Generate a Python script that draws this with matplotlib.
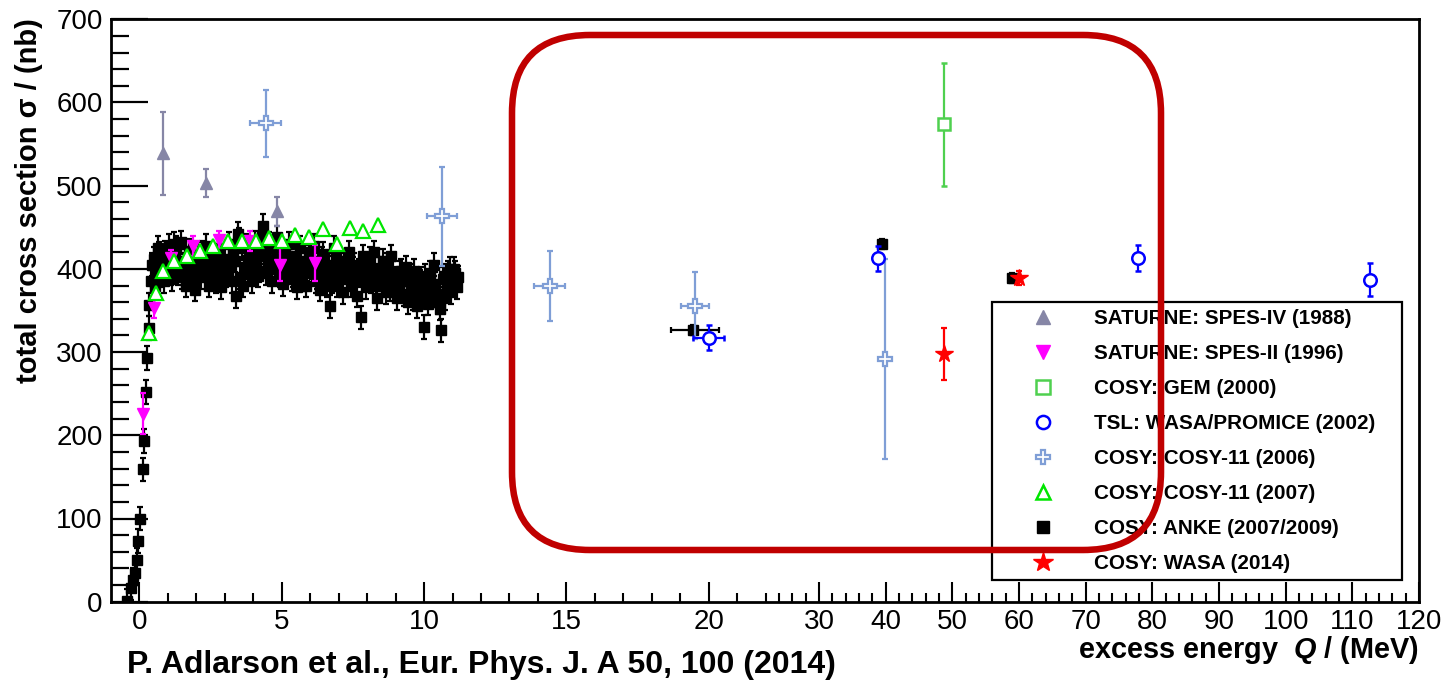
import numpy as np
import matplotlib
matplotlib.use("Agg")
import matplotlib.pyplot as plt
from matplotlib.lines import Line2D
from matplotlib.patches import FancyBboxPatch

# ---------------- data ----------------
# SATURNE SPES-IV (1988)
spes4_q = [0.84, 2.34, 4.83]
spes4_s = [539, 503, 469]
spes4_e = [50, 17, 18]

# SATURNE SPES-II (1996)
spes2_q = [0.14, 0.52, 1.10, 1.88, 2.78, 3.89, 4.95, 6.18]
spes2_s = [226, 353, 413, 427, 435, 434, 405, 407]
spes2_e = [25, 12, 10, 12, 10, 12, 20, 22]

# COSY GEM (2000)
gem_q = [48.8]
gem_s = [574]
gem_e = [74]

# TSL WASA/PROMICE (2002)
tsl_q = [20.0, 38.8, 77.9, 112.6]
tsl_s = [317, 413, 413, 387]
tsl_e = [15, 15, 16, 20]
tsl_xe = [0.55, 0.0, 0.0, 0.0]

# COSY-11 (2006)
c06_q = [4.44, 10.63, 14.41, 19.53, 39.9]
c06_s = [575, 463, 379, 356, 292]
c06_e = [40, 60, 42, 40, 120]
c06_xe = [0.54, 0.53, 0.53, 0.5, 0.0]

# COSY-11 (2007)
c07_q = [0.34, 0.59, 0.84, 1.20, 1.67, 2.13, 2.60, 3.10, 3.62, 4.09,
         4.54, 5.00, 5.47, 5.94, 6.45, 6.94, 7.40, 7.87, 8.38]
c07_s = [323, 371, 398, 409, 415, 422, 427, 433, 434, 433,
         437, 433, 441, 438, 448, 430, 449, 445, 453]

# COSY ANKE (2007/2009) - threshold region
anke_q = [-0.44, -0.30, -0.21, -0.15, -0.09, -0.035, 0.02, 0.11, 0.165, 0.22,
          0.27, 0.32, 0.35,
          0.4, 0.5, 0.6, 0.7, 0.8, 0.9, 1.0, 1.1, 1.2, 1.3, 1.4, 1.5, 1.6, 1.7,
          1.8, 1.9, 2.0, 2.1, 2.2, 2.3, 2.4, 2.5, 2.6, 2.7, 2.8, 2.9, 3.0, 3.1,
          3.2, 3.3, 3.4, 3.5, 3.6, 3.7, 3.8, 3.9, 4.0, 4.1, 4.2, 4.3, 4.4, 4.5,
          4.6, 4.7, 4.8, 4.9, 5.0, 5.1, 5.2, 5.3, 5.4, 5.5, 5.6, 5.7, 5.8, 5.9,
          6.0, 6.1, 6.2, 6.3, 6.4, 6.5, 6.6, 6.7, 6.8, 6.9, 7.0, 7.1, 7.2, 7.3,
          7.4, 7.5, 7.6, 7.7, 7.8, 7.9, 8.0, 8.1, 8.2, 8.3, 8.4, 8.5, 8.6, 8.7,
          8.8, 8.9, 9.0, 9.1, 9.2, 9.3, 9.4, 9.5, 9.6, 9.7, 9.8, 9.9, 10.0, 10.1,
          10.2, 10.3, 10.4, 10.5, 10.6, 10.7, 10.8, 10.9, 11.0, 11.1, 11.2,
          0.45, 0.55, 0.65, 0.75, 0.85, 0.95, 1.05, 1.15, 1.25, 1.35, 1.45, 1.55,
          1.65, 1.75, 1.85, 1.95, 2.05, 2.15, 2.25, 2.35, 2.45, 2.55, 2.65, 2.75,
          2.85, 2.95, 3.05, 3.15, 3.25, 3.35, 3.45, 3.55, 3.65, 3.75, 3.85, 3.95,
          4.05, 4.15, 4.25, 4.35, 4.45, 4.55, 4.65, 4.75, 4.85, 4.95, 5.05, 5.15,
          5.25, 5.35, 5.45, 5.55, 5.65, 5.75, 5.85, 5.95, 6.05, 6.15, 6.25, 6.35,
          6.45, 6.55, 6.65, 6.75, 6.85, 6.95, 7.05, 7.15, 7.25, 7.35, 7.45, 7.55,
          7.65, 7.75, 7.85, 7.95, 8.05, 8.15, 8.25, 8.35, 8.45, 8.55, 8.65, 8.75,
          8.85, 8.95, 9.05, 9.15, 9.25, 9.35, 9.45, 9.55, 9.65, 9.75, 9.85, 9.95,
          10.05, 10.15, 10.25, 10.35, 10.45, 10.55, 10.65, 10.75, 10.85, 10.95,
          11.05, 11.15]
anke_s = [1, 16, 26, 34, 50, 73, 100, 159, 193, 252,
          293, 329, 357,
          385, 412, 398, 418, 392, 420, 405, 395, 430, 425, 400, 390, 410, 398,
          415, 388, 405, 396, 420, 410, 392, 400, 415, 385, 405, 398, 412, 395,
          405, 420, 367, 435, 425, 402, 410, 395, 418, 405, 398, 440, 415, 408,
          400, 425, 412, 395, 405, 420, 398, 410, 392, 415, 402, 388, 410, 400,
          420, 395, 385, 405, 412, 398, 380, 355, 402, 415, 395, 388, 405, 410,
          392, 400, 385, 398, 342, 405, 390, 412, 395, 380, 400, 392, 385, 405,
          375, 395, 388, 378, 398, 370, 385, 392, 365, 380, 372, 388, 330, 375,
          395, 368, 382, 360, 326, 392, 378, 400, 385, 395, 390,
          405, 380, 425, 402, 385, 412, 428, 388, 415, 395, 432, 405,
          380, 422, 400, 375, 418, 390, 402, 428, 380, 410, 395, 425,
          378, 408, 392, 430, 385, 410, 442, 390, 380, 428, 412, 385,
          432, 392, 420, 452, 395, 430, 385, 410, 438, 392, 382, 412,
          430, 388, 405, 378, 425, 398, 380, 415, 402, 428, 390, 375,
          418, 395, 405, 385, 425, 380, 410, 372, 398, 420, 380, 405,
          368, 392, 415, 378, 402, 385, 420, 365, 392, 410, 372, 398,
          415, 380, 365, 395, 385, 402, 360, 375, 398, 355, 385, 368,
          392, 358, 380, 405, 370, 352, 388, 365, 395, 372,
          400, 378]
# ANKE higher energies
anke2_q = [19.44, 39.4, 58.9]
anke2_s = [327, 430, 389]
anke2_xl = [0.76, 0.0, 0.0]
anke2_xr = [0.91, 0.0, 0.0]

# COSY WASA (2014)
wasa_q = [48.8, 60.0]
wasa_s = [298, 389]
wasa_e = [31, 8]

legend_labels = ["SATURNE: SPES-IV (1988)", "SATURNE: SPES-II (1996)",
                 "COSY: GEM (2000)", "TSL: WASA/PROMICE (2002)",
                 "COSY: COSY-11 (2006)", "COSY: COSY-11 (2007)",
                 "COSY: ANKE (2007/2009)", "COSY: WASA (2014)"]

major_ticks = [0, 5, 10, 15, 20, 30, 40, 50, 60, 70, 80, 90, 100, 110, 120]

# ---------------- style ----------------
plt.rcParams['font.family'] = ['Liberation Sans', 'DejaVu Sans']
plt.rcParams['mathtext.fontset'] = 'custom'
plt.rcParams['mathtext.it'] = 'Liberation Sans:italic:bold'
plt.rcParams['mathtext.rm'] = 'Liberation Sans:bold'

C_SPES4 = '#8686a6'
C_SPES2 = '#ff00ff'
C_GEM = '#4fd04f'
C_TSL = '#0000ff'
C_C06 = '#7f9ed6'
C_C07 = '#00e600'
C_ANKE = '#000000'
C_WASA = '#ff0000'

fig = plt.figure(figsize=(14.5, 6.83), dpi=100)
ax = fig.add_axes([111/1450, 1-601.7/683, (1419-111)/1450, (601.7-19.3)/683])

# piecewise-linear x scale: linear to 22 MeV, compressed beyond
QB = [-5.0, 22.0, 200.0]
UB = [-5.0, 22.0, 22.0 + 0.2343*178.0]
ax.set_xscale('function', functions=(lambda q: np.interp(q, QB, UB),
                                     lambda u: np.interp(u, UB, QB)))

ekw = dict(capsize=2.2, elinewidth=1.6, capthick=1.6, linestyle='none')

ax.errorbar(anke_q, anke_s, yerr=14, fmt='s', color=C_ANKE, ms=7.2, zorder=3, **ekw)
ax.errorbar(anke2_q, anke2_s, xerr=[anke2_xl, anke2_xr], yerr=6, fmt='s', color=C_ANKE,
            ms=7.2, zorder=3, **ekw)
ax.errorbar(spes2_q, spes2_s, yerr=spes2_e, fmt='v', color=C_SPES2, ms=8.5, zorder=4, **ekw)
ax.errorbar(spes4_q, spes4_s, yerr=spes4_e, fmt='^', color=C_SPES4, ms=8.5, zorder=4, **ekw)
ax.errorbar(c07_q, c07_s, fmt='^', color=C_C07, mfc='white', mew=1.6, ms=10.5, zorder=5, **ekw)
ax.errorbar(c06_q, c06_s, yerr=c06_e, xerr=c06_xe, fmt='P', color=C_C06, mfc='white',
            mew=1.6, ms=10, zorder=5, **ekw)
ax.errorbar(gem_q, gem_s, yerr=gem_e, fmt='s', color=C_GEM, mfc='white', mew=1.8,
            ms=9, zorder=5, **ekw)
ax.errorbar(tsl_q, tsl_s, yerr=tsl_e, xerr=tsl_xe, fmt='o', color=C_TSL, mfc='white',
            mew=1.8, ms=9, zorder=6, **ekw)
ax.errorbar(wasa_q, wasa_s, yerr=wasa_e, fmt='*', color=C_WASA, ms=13, zorder=6, **ekw)

ax.set_xlim(-1, 120)
ax.set_ylim(0, 700)

# ticks
minor_x = [q for q in range(1, 22) if q not in major_ticks] + \
          [q for q in range(22, 120, 2) if q not in major_ticks]
ax.set_xticks(major_ticks)
ax.set_xticklabels([str(v) for v in major_ticks])
ax.set_xticks(minor_x, minor=True)
ax.set_yticks(np.arange(0, 701, 100))
ax.set_yticks(np.arange(0, 701, 20), minor=True)

ax.tick_params(axis='x', which='major', direction='in', length=14.5, width=1.5,
               labelsize=20, pad=5, top=False)
ax.tick_params(axis='x', which='minor', direction='in', length=6.5, width=1.5, top=False)
ax.tick_params(axis='y', which='major', direction='in', length=26.6, width=1.6,
               labelsize=20, pad=6, right=False)
ax.tick_params(axis='y', which='minor', direction='in', length=13, width=1.6, right=False)

for sp in ax.spines.values():
    sp.set_linewidth(2.0)

# legend
handles = [
    Line2D([], [], ls='none', marker='^', color=C_SPES4, ms=9.5),
    Line2D([], [], ls='none', marker='v', color=C_SPES2, ms=9.5),
    Line2D([], [], ls='none', marker='s', color=C_GEM, mfc='none', mew=1.8, ms=9.5),
    Line2D([], [], ls='none', marker='o', color=C_TSL, mfc='none', mew=1.8, ms=9.5),
    Line2D([], [], ls='none', marker='P', color=C_C06, mfc='none', mew=1.6, ms=10.5),
    Line2D([], [], ls='none', marker='^', color=C_C07, mfc='none', mew=1.8, ms=10.5),
    Line2D([], [], ls='none', marker='s', color=C_ANKE, ms=9),
    Line2D([], [], ls='none', marker='*', color=C_WASA, ms=15),
]
leg = ax.legend(handles, legend_labels, loc='upper left',
                bbox_to_anchor=(992/1450, 1-580/683, (1402-992)/1450, (580-302)/683),
                bbox_transform=fig.transFigure, mode='expand', borderaxespad=0,
                fancybox=False, edgecolor='black', framealpha=1,
                prop={'weight': 'bold', 'size': 14.9},
                handlelength=4.23, handletextpad=0.35, labelspacing=0.77,
                borderpad=0.35)
leg.get_frame().set_linewidth(1.6)
leg.set_zorder(10)

# texts
fig.text(29/1450, 1-201/683, 'total cross section σ / (nb)', rotation=90,
         ha='center', va='center', fontsize=21, fontweight='bold')
fig.text(127/1450, 1-665/683, 'P. Adlarson et al., Eur. Phys. J. A 50, 100 (2014)',
         ha='left', va='center', fontsize=23, fontweight='bold')
fig.text(1419/1450, 1-650/683, r'excess energy  $Q$ / (MeV)', ha='right', va='center',
         fontsize=20.8, fontweight='bold')

# red highlight box
box = FancyBboxPatch((5.12, 6.83-5.50), 6.49, 5.15,
                     boxstyle='round,pad=0,rounding_size=0.78',
                     transform=fig.dpi_scale_trans, facecolor='none',
                     edgecolor='#c00000', linewidth=4.7, zorder=20)
fig.add_artist(box)

fig.savefig('out.png', dpi=100)
